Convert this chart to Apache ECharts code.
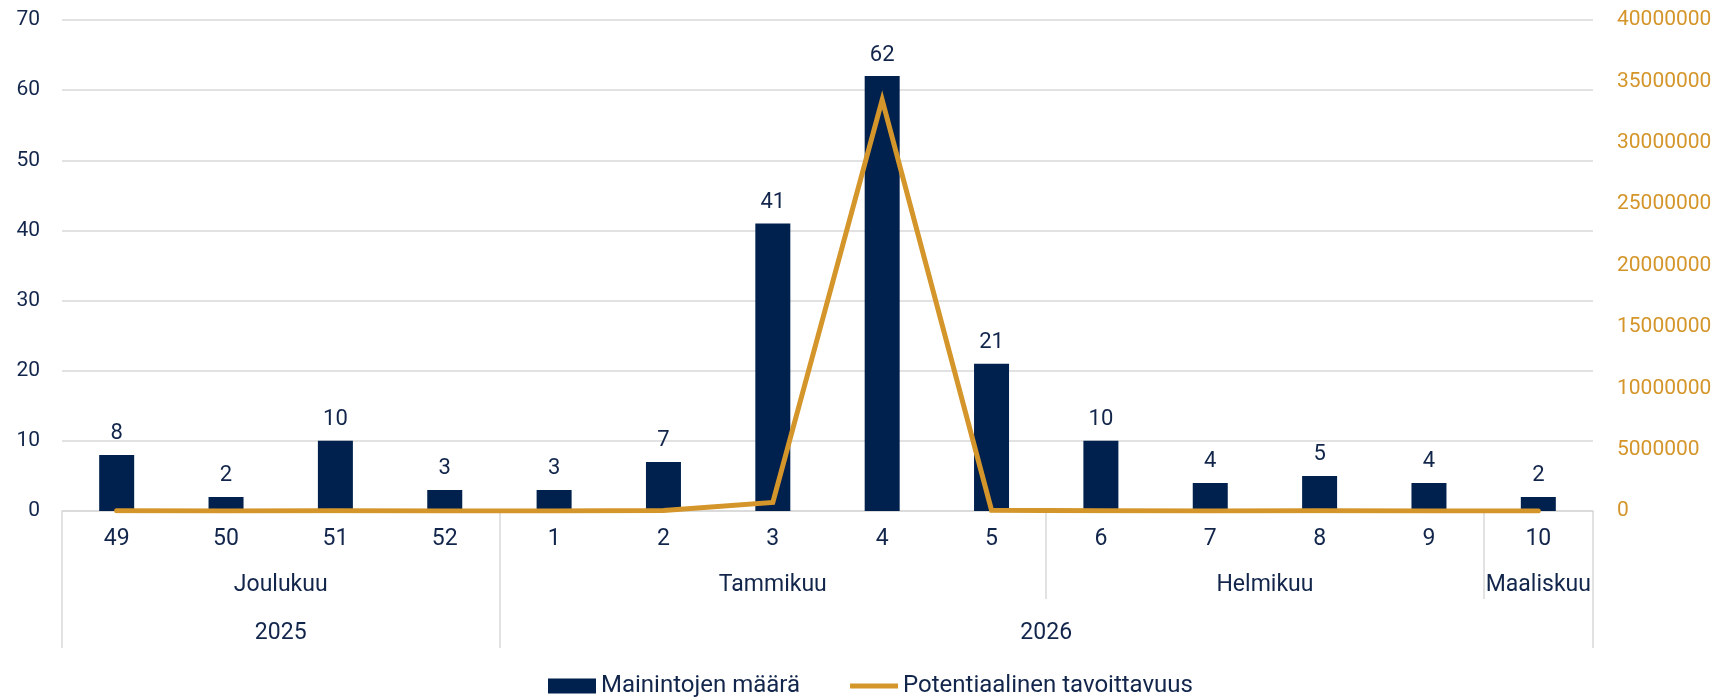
<!DOCTYPE html>
<html>
<head>
<meta charset="utf-8">
<script src="https://cdn.jsdelivr.net/npm/echarts@6/dist/echarts.min.js"></script>
<style>
  html, body { margin: 0; padding: 0; background: #fff; }
  #chart { width: 1729px; height: 697px; }
</style>
</head>
<body>
<div id="chart"></div>
<script>
// weeks and values
var weeks = ['49', '50', '51', '52', '1', '2', '3', '4', '5', '6', '7', '8', '9', '10'];
var mentions = [8, 2, 10, 3, 3, 7, 41, 62, 21, 10, 4, 5, 4, 2];
var reach = [20000, 5000, 30000, 10000, 8000, 40000, 700000, 33500000, 60000, 30000, 10000, 15000, 10000, 5000];

// month and year groups: label, centre position, boundaries (in category units)
var months = ['Joulukuu', 'Tammikuu', 'Helmikuu', 'Maaliskuu'];
var monthCenters = [2, 6.5, 11, 13.5];
var monthEdges = [0, 4, 9, 13, 14];
var years = ['2025', '2026'];
var yearCenters = [2, 9];
var yearEdges = [0, 4, 14];

var navy = '#00214D';
var gold = '#D4952A';
var textNavy = '#12254B';
var gray = '#D9D9D9';
var catFont = 'Roboto';

var myChart = echarts.init(document.getElementById('chart'));

function groupAxis(labels, centers, edges, tickLen, margin) {
    return {
        type: 'value',
        position: 'bottom',
        min: 0,
        max: 14,
        axisLine: { show: false },
        splitLine: { show: false },
        axisTick: {
            show: true,
            customValues: edges,
            length: tickLen,
            lineStyle: { color: gray, width: 1.5 }
        },
        axisLabel: {
            customValues: centers,
            margin: margin,
            color: textNavy,
            fontSize: 23,
            fontFamily: catFont,
            formatter: function (v) {
                var i = centers.indexOf(v);
                return i >= 0 ? labels[i] : '';
            }
        }
    };
}

var option = {
    animation: false,
    grid: { left: 62, right: 136, top: 20, bottom: 186 },
    legend: {
        left: 543,
        top: 669,
        itemGap: 50,
        itemWidth: 48,
        itemHeight: 15,
        textStyle: { color: textNavy, fontSize: 24, fontFamily: catFont },
        data: [
            { name: 'Mainintojen määrä', icon: 'rect' },
            { name: 'Potentiaalinen tavoittavuus', icon: 'path://M0,0 L48,0 L48,5 L0,5 Z' }
        ]
    },
    xAxis: [
        {
            type: 'category',
            data: weeks,
            position: 'bottom',
            axisLine: { show: true, lineStyle: { color: gray, width: 1.5 } },
            axisTick: { show: false },
            axisLabel: { color: textNavy, fontSize: 23, fontFamily: catFont, margin: 17 }
        },
        groupAxis(months, monthCenters, monthEdges, 88, 63),
        groupAxis(years, yearCenters, yearEdges, 137, 111)
    ],
    yAxis: [
        {
            type: 'value',
            min: 0,
            max: 70,
            interval: 10,
            axisLine: { show: false },
            axisTick: { show: false },
            splitLine: { lineStyle: { color: gray, width: 1.5 } },
            axisLabel: { color: textNavy, fontSize: 21, fontFamily: 'Roboto', margin: 22 }
        },
        {
            type: 'value',
            min: 0,
            max: 40000000,
            interval: 5000000,
            position: 'right',
            axisLine: { show: false },
            axisTick: { show: false },
            splitLine: { show: false },
            axisLabel: {
                color: gold,
                fontSize: 21,
                fontFamily: 'Roboto',
                margin: 24,
                formatter: function (v) { return String(v); }
            }
        }
    ],
    series: [
        {
            name: 'Mainintojen määrä',
            type: 'bar',
            data: mentions,
            barWidth: 35,
            itemStyle: { color: navy },
            label: {
                show: true,
                position: 'top',
                distance: 10,
                color: textNavy,
                fontSize: 22,
                fontFamily: 'Roboto'
            }
        },
        {
            name: 'Potentiaalinen tavoittavuus',
            type: 'line',
            yAxisIndex: 1,
            data: reach,
            symbol: 'none',
            z: 3,
            lineStyle: { color: gold, width: 5, cap: 'round', join: 'miter' },
            itemStyle: { color: gold }
        }
    ]
};
option && myChart.setOption(option);
</script>
</body>
</html>
